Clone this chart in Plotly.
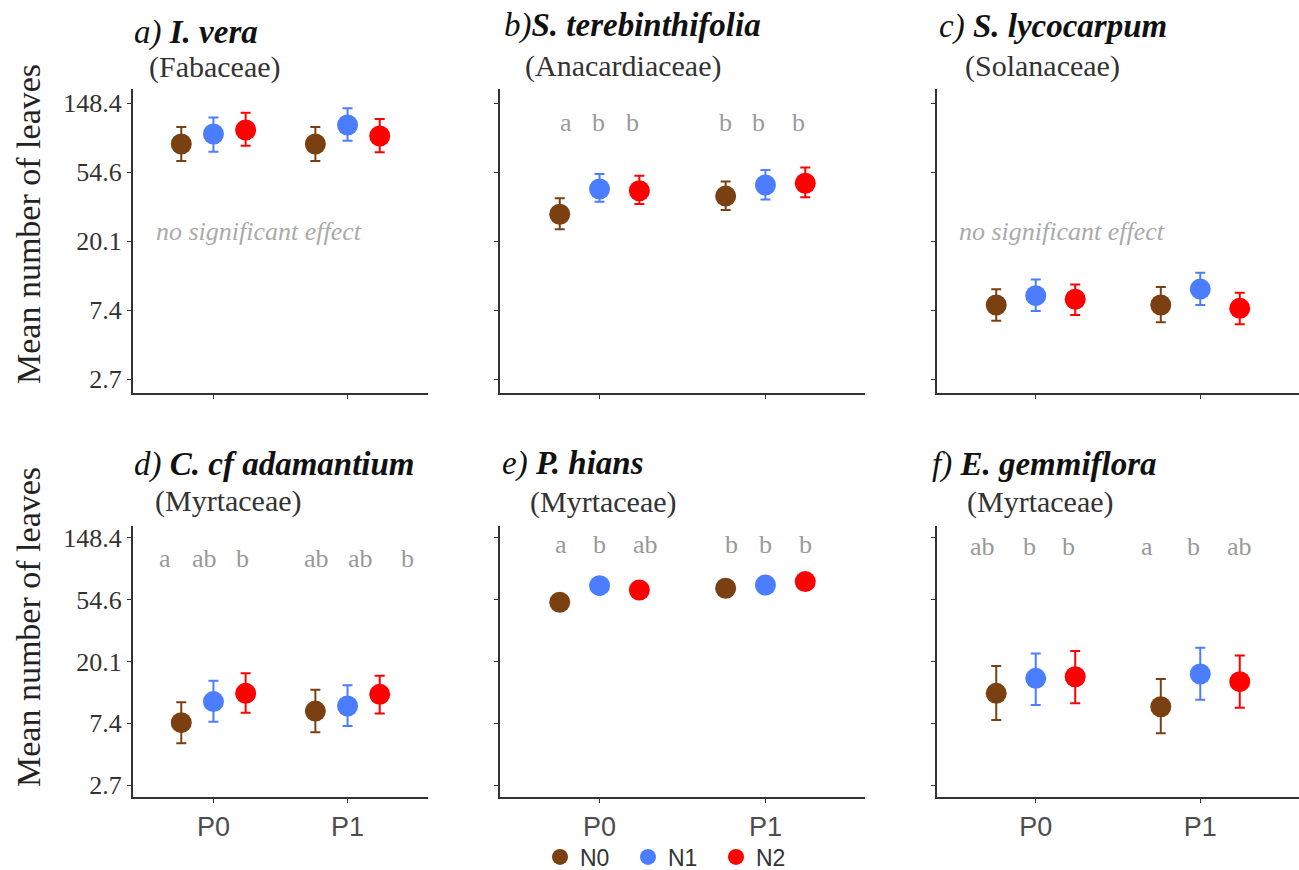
import math
import plotly.graph_objects as go

# ---------------- data ----------------
groups = ["N0", "N1", "N2"]
phases = ["P0", "P1"]
group_colors = ["#7B4012", "#4A7DFF", "#FF0000"]

panel_labels = ["a)", "b)", "c)", "d)", "e)", "f)"]
species = ["I. vera", "S. terebinthifolia", "S. lycocarpum",
           "C. cf adamantium", "P. hians", "E. gemmiflora"]
families = ["(Fabaceae)", "(Anacardiaceae)", "(Solanaceae)",
            "(Myrtaceae)", "(Myrtaceae)", "(Myrtaceae)"]

# order: P0-N0, P0-N1, P0-N2, P1-N0, P1-N1, P1-N2
ivera_mean = [81.9, 94.7, 100.4, 81.9, 107.9, 92.0]
ivera_low = [64.0, 73.3, 80.0, 64.0, 86.0, 72.6]
ivera_high = [105.0, 120.5, 129.0, 105.0, 137.5, 117.7]

stere_mean = [29.6, 42.7, 41.6, 38.5, 45.2, 46.4]
stere_low = [23.8, 35.5, 34.3, 31.5, 36.7, 37.8]
stere_high = [37.3, 53.0, 51.7, 47.5, 56.2, 58.2]

slyco_mean = [7.94, 9.09, 8.63, 7.94, 10.0, 7.57]
slyco_low = [6.33, 7.29, 6.88, 6.18, 7.94, 6.0]
slyco_high = [9.97, 11.5, 10.7, 10.3, 12.7, 9.5]

cadam_mean = [7.46, 10.5, 12.0, 9.0, 9.77, 11.8]
cadam_low = [5.34, 7.58, 8.77, 6.38, 7.06, 8.67]
cadam_high = [10.4, 14.7, 16.6, 12.7, 13.7, 15.96]

phian_mean = [52.4, 68.6, 63.9, 65.7, 69.3, 73.2]
phian_low = [48.5, 64.0, 59.5, 61.5, 65.0, 68.5]
phian_high = [56.5, 73.5, 68.5, 70.0, 74.0, 78.0]

egemm_mean = [12.0, 15.3, 15.7, 9.66, 16.4, 14.5]
egemm_low = [7.79, 9.93, 10.2, 6.28, 10.8, 9.5]
egemm_high = [18.7, 22.9, 23.8, 15.1, 25.1, 22.1]

means = [ivera_mean, stere_mean, slyco_mean, cadam_mean, phian_mean, egemm_mean]
lows = [ivera_low, stere_low, slyco_low, cadam_low, phian_low, egemm_low]
highs = [ivera_high, stere_high, slyco_high, cadam_high, phian_high, egemm_high]

letters_b = ["a", "b", "b", "b", "b", "b"]
letters_d = ["a", "ab", "b", "ab", "ab", "b"]
letters_e = ["a", "b", "ab", "b", "b", "b"]
letters_f = ["ab", "b", "b", "a", "b", "ab"]
panel_letters = [None, letters_b, None, letters_d, letters_e, letters_f]
no_effect_text = "no significant effect"

y_tick_values = [math.e ** k for k in range(1, 6)]
y_tick_labels = ["2.7", "7.4", "20.1", "54.6", "148.4"]
y_title = "Mean number of leaves"

# ---------------- layout helpers ----------------
W, H = 1299, 870
def px_x(p): return p / W
def px_y(p): return 1 - p / H

dodge = [-0.24, 0.0, 0.24]
col_x = [(133, 428), (500, 865), (937, 1299)]
row_y = [(89.2, 392.8), (525.6, 797.4)]
ln_range = [0.8, 5.2]
log_range = [v / math.log(10) for v in ln_range]

letter_dx = [None,
             [-0.205, -0.006, 0.2, -0.24, -0.04, 0.2],
             None,
             [-0.36, -0.07, 0.22, -0.235, 0.1, 0.445],
             [-0.235, 0.0, 0.277, -0.205, 0.0, 0.24],
             [-0.326, -0.04, 0.2, -0.323, -0.044, 0.236]]
letter_y = [None, 112, None, 107, 133, 129]
title_pos = [(132, 32), (502, 26), (937, 27), (132, 465), (500, 463), (930, 465)]
title_sep = [" ", "", " ", " ", " ", " "]
sub_pos = [(147, 67), (523, 66), (963, 66), (153, 501), (528, 502), (965, 502)]

SERIF = "Liberation Serif"
SANS = "Liberation Sans"

fig = go.Figure()
annotations = []
layout_axes = {}

for p in range(6):
    r, c = divmod(p, 3)
    ax = "" if p == 0 else str(p + 1)
    xref, yref = "x" + ax, "y" + ax
    for g in range(3):
        xs, ys, ep, em = [], [], [], []
        for ph in range(2):
            i = ph * 3 + g
            xs.append(ph + dodge[g])
            ys.append(means[p][i])
            ep.append(highs[p][i] - means[p][i])
            em.append(means[p][i] - lows[p][i])
        fig.add_trace(go.Scatter(
            x=xs, y=ys, mode="markers", xaxis=xref, yaxis=yref,
            name=groups[g], legendgroup=groups[g], showlegend=(p == 0),
            marker=dict(size=21, color=group_colors[g], line=dict(width=0)),
            error_y=dict(type="data", symmetric=False, array=ep, arrayminus=em,
                         color=group_colors[g], thickness=2, width=5),
            hoverinfo="skip"))

    x0, x1 = col_x[c]
    y0, y1 = row_y[r]
    layout_axes["xaxis" + ax] = dict(
        domain=[px_x(x0), px_x(x1)], range=[-0.6, 1.6], anchor=yref,
        tickvals=[0, 1], ticktext=phases, showticklabels=(r == 1),
        ticks="outside", ticklen=4, tickwidth=1.3, tickcolor="#333333",
        showline=True, linecolor="#333333", linewidth=2, showgrid=False,
        zeroline=False, automargin=False,
        tickfont=dict(family=SANS, size=27, color="#4d4d4d"))
    layout_axes["yaxis" + ax] = dict(
        domain=[px_y(y1), px_y(y0)], type="log", range=log_range, anchor=xref,
        tickvals=y_tick_values, ticktext=y_tick_labels, showticklabels=(c == 0),
        ticks="outside", ticklen=4, tickwidth=1.3, tickcolor="#333333",
        showline=True, linecolor="#333333", linewidth=2, showgrid=False,
        zeroline=False, automargin=False,
        tickfont=dict(family=SERIF, size=26, color="#333333"))

    tx, ty = title_pos[p]
    annotations.append(dict(
        text="<i>%s</i>%s<b><i>%s</i></b>" % (panel_labels[p], title_sep[p], species[p]),
        x=px_x(tx), y=px_y(ty), xref="paper", yref="paper",
        xanchor="left", yanchor="middle", showarrow=False,
        font=dict(family=SERIF, size=33, color="#111111")))
    sx, sy = sub_pos[p]
    annotations.append(dict(
        text=families[p], x=px_x(sx), y=px_y(sy), xref="paper", yref="paper",
        xanchor="left", yanchor="middle", showarrow=False,
        font=dict(family=SERIF, size=30, color="#333333")))

    if panel_letters[p] is None:
        annotations.append(dict(
            text="<i>%s</i>" % no_effect_text,
            x=0.34 if c == 0 else 0.16, y=math.log10(22.9), xref=xref, yref=yref,
            xanchor="center", yanchor="middle", showarrow=False,
            font=dict(family=SERIF, size=26, color="#aaaaaa")))
    else:
        for i, lab in enumerate(panel_letters[p]):
            ph = i // 3
            annotations.append(dict(
                text=lab, x=ph + letter_dx[p][i], y=math.log10(letter_y[p]),
                xref=xref, yref=yref, xanchor="center", yanchor="middle",
                showarrow=False,
                font=dict(family=SERIF, size=26, color="#999999")))

# y-axis titles
for yc in (224, 627):
    annotations.append(dict(
        text=y_title, x=px_x(28), y=px_y(yc), xref="paper", yref="paper",
        xanchor="center", yanchor="middle", textangle=-90, showarrow=False,
        font=dict(family=SERIF, size=34, color="#222222")))

fig.update_layout(
    template="none",
    width=W, height=H,
    margin=dict(l=0, r=0, t=0, b=0, autoexpand=False),
    paper_bgcolor="white", plot_bgcolor="white",
    annotations=annotations,
    showlegend=True,
    legend=dict(orientation="h", x=px_x(540), y=px_y(857), xanchor="left",
                yanchor="middle", entrywidth=43, entrywidthmode="pixels",
                font=dict(family=SANS, size=23, color="#333333"),
                bgcolor="rgba(0,0,0,0)", itemsizing="trace"),
    **layout_axes)

fig.write_html("out.html")
